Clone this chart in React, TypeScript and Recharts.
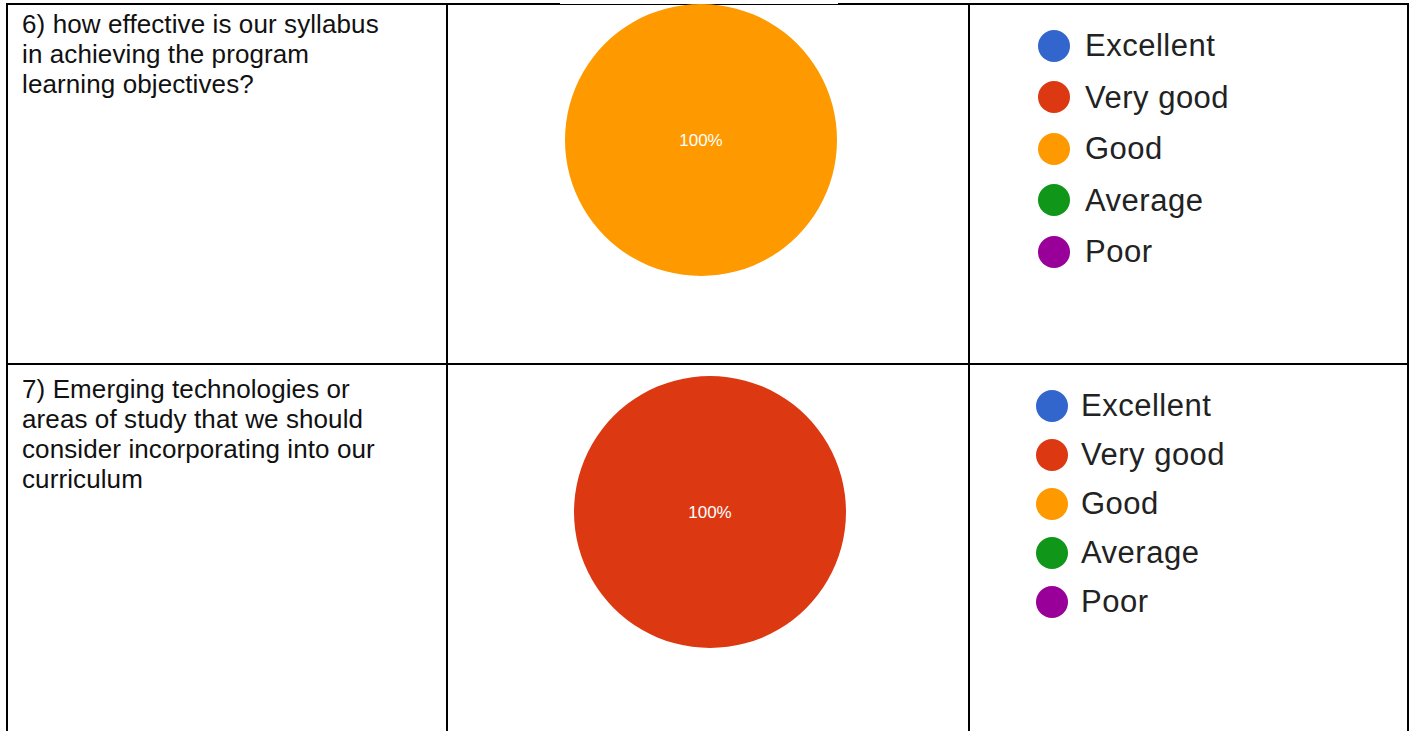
import { Cell, Legend, Pie, PieChart } from "recharts";

const categories = ["Excellent", "Very good", "Good", "Average", "Poor"];
const colors = ["#3366cc", "#dc3912", "#ff9900", "#109618", "#990099"];

// share of responses (%) per category
const q6Values = [0, 0, 100, 0, 0];
const q7Values = [0, 100, 0, 0, 0];

const q6Lines = [
  "6) how effective is our syllabus",
  "in achieving the program",
  "learning objectives?",
];
const q7Lines = [
  "7) Emerging technologies or",
  "areas of study that we should",
  "consider incorporating into our",
  "curriculum",
];

const FONT = '"Liberation Sans", Arial, sans-serif';

const toData = (values: number[]) =>
  categories.map((name, i) => ({ name, value: values[i] }));

const renderLabel = (props: any) => {
  const { cx, cy, midAngle, outerRadius, percent, value } = props;
  if (!value) return null;
  let x = cx;
  let y = cy;
  if (percent < 0.999) {
    const rad = (-midAngle * Math.PI) / 180;
    x = cx + outerRadius * 0.6 * Math.cos(rad);
    y = cy + outerRadius * 0.6 * Math.sin(rad);
  }
  return (
    <text
      x={x}
      y={y}
      fill="#ffffff"
      textAnchor="middle"
      dominantBaseline="central"
      style={{ fontFamily: FONT, fontSize: 17 }}
    >
      {`${Math.round(percent * 100)}%`}
    </text>
  );
};

const legendContent = (itemHeight: number, gap: number) => () => (
  <div style={{ fontFamily: FONT }}>
    {categories.map((name, i) => (
      <div
        key={name}
        style={{ display: "flex", alignItems: "center", height: itemHeight }}
      >
        <span
          style={{
            display: "inline-block",
            width: 32,
            height: 32,
            borderRadius: "50%",
            background: colors[i],
          }}
        />
        <span
          style={{
            marginLeft: gap,
            fontSize: 31,
            lineHeight: `${itemHeight}px`,
            color: "#222222",
            letterSpacing: 0.5,
          }}
        >
          {name}
        </span>
      </div>
    ))}
  </div>
);

interface RowProps {
  top: number;
  height: number;
  lines: string[];
  values: number[];
  cx: number;
  cy: number;
  legendLeft: number;
  legendTop: number;
  itemHeight: number;
  gap: number;
}

function SurveyRow(p: RowProps) {
  return (
    <>
      <div
        style={{
          position: "absolute",
          left: 22,
          top: p.top + 9,
          fontFamily: FONT,
          fontSize: 26,
          lineHeight: "30px",
          letterSpacing: 0.1,
          color: "#111111",
          whiteSpace: "nowrap",
        }}
      >
        {p.lines.map((l) => (
          <div key={l}>{l}</div>
        ))}
      </div>
      <div style={{ position: "absolute", left: 449, top: p.top }}>
        <PieChart
          width={959}
          height={p.height}
          margin={{ top: 0, right: 0, bottom: 0, left: 0 }}
        >
          <Pie
            data={toData(p.values)}
            dataKey="value"
            nameKey="name"
            cx={p.cx}
            cy={p.cy}
            outerRadius={136}
            startAngle={90}
            endAngle={-270}
            stroke="none"
            label={renderLabel}
            labelLine={false}
            isAnimationActive={false}
          >
            {categories.map((name, i) => (
              <Cell key={name} fill={colors[i]} />
            ))}
          </Pie>
          <Legend
            layout="vertical"
            align="center"
            verticalAlign="middle"
            content={legendContent(p.itemHeight, p.gap)}
            wrapperStyle={{
              left: p.legendLeft,
              top: p.legendTop,
              width: "auto",
              height: "auto",
            }}
          />
        </PieChart>
      </div>
    </>
  );
}

const line = (l: number, t: number, w: number, h: number) => (
  <div
    style={{
      position: "absolute",
      left: l,
      top: t,
      width: w,
      height: h,
      background: "#000000",
    }}
  />
);

export default function App() {
  return (
    <div
      style={{
        position: "absolute",
        left: 0,
        top: 0,
        width: 1410,
        height: 731,
        overflow: "hidden",
        background: "#ffffff",
      }}
    >
      {line(6, 3, 1403, 2)}
      {line(6, 363, 1403, 2)}
      {line(6, 3, 2, 728)}
      {line(446, 3, 2, 728)}
      {line(968, 3, 2, 728)}
      {line(1407, 3, 2, 728)}
      <div
        style={{
          position: "absolute",
          left: 560,
          top: 3,
          width: 278,
          height: 1,
          background: "#ffffff",
        }}
      />
      <SurveyRow
        top={0}
        height={362}
        lines={q6Lines}
        values={q6Values}
        cx={252}
        cy={140}
        legendLeft={589}
        legendTop={20}
        itemHeight={51.5}
        gap={15}
      />
      <SurveyRow
        top={365}
        height={366}
        lines={q7Lines}
        values={q7Values}
        cx={261}
        cy={147}
        legendLeft={587}
        legendTop={16}
        itemHeight={49}
        gap={13}
      />
    </div>
  );
}
